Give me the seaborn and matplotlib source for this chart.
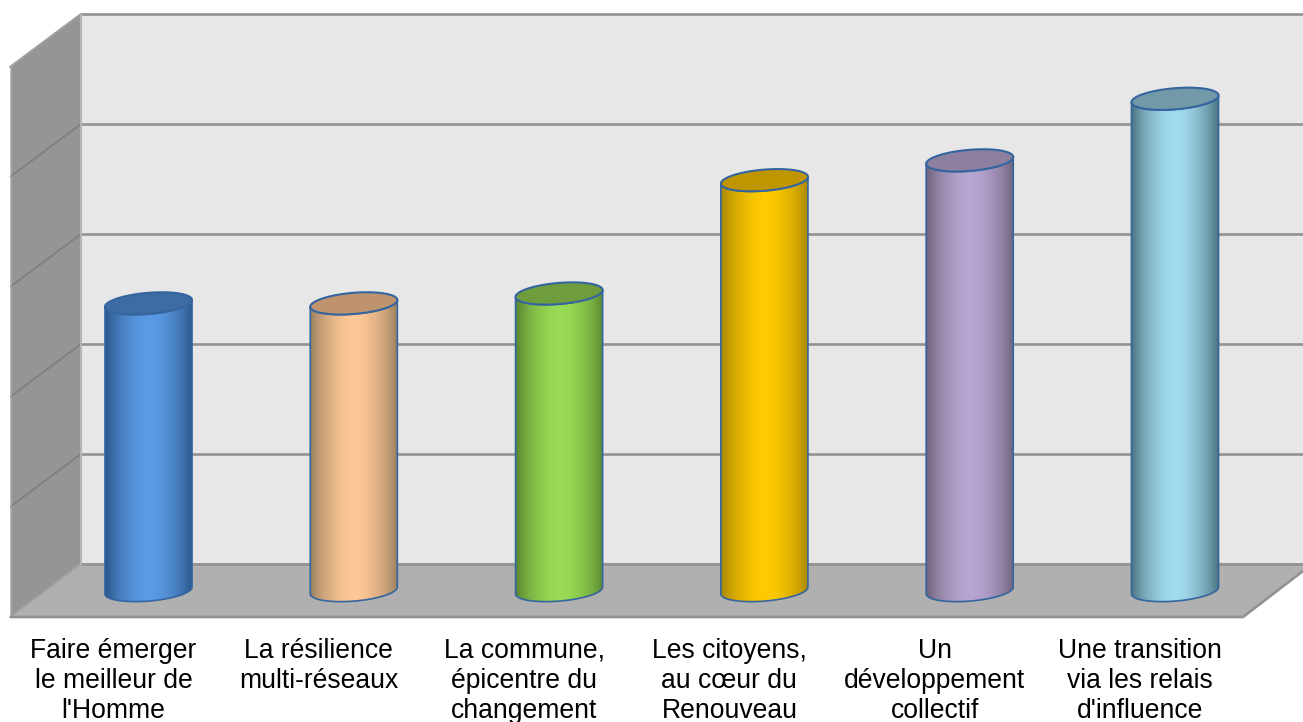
import numpy as np
import pandas as pd
import matplotlib
matplotlib.use("Agg")
import matplotlib.pyplot as plt
import seaborn as sns
from matplotlib.colors import LinearSegmentedColormap, to_rgb
from matplotlib.patches import PathPatch, Polygon
from matplotlib.path import Path
from matplotlib.transforms import ScaledTranslation

categories = ["Faire émerger\nle meilleur de\nl'Homme", "La résilience\nmulti-réseaux\n",
              "La commune,\népicentre du\nchangement", "Les citoyens,\nau cœur du\nRenouveau",
              "Un\ndéveloppement\ncollectif", "Une transition\nvia les relais\nd'influence"]
values = [2.61, 2.61, 2.70, 3.73, 3.91, 4.47]
grid_values = [1, 2, 3, 4, 5]
bright = ["#5B9BE6", "#FFC896", "#9ADC56", "#FFCB00", "#B8A6D2", "#A2DCEF"]
dark = ["#2A5688", "#9A7F60", "#5A8630", "#A88606", "#6E627A", "#4A727F"]
caps = ["#3D6CA4", "#BE936D", "#6F9D3B", "#C09600", "#8C7F9F", "#7199A7"]
outline = "#35659F"

W, H = 1303, 722
PX_X, PX_Y = 205.3, 110.0      # pixels per category / per value unit
X0, Y0 = 148.5, 590.5          # pixel position of the first bar's base centre
FLOOR_FRONT = 617
LABEL_SHIFT_PX = -35           # labels sit on the chart's front edge, left of the bars

sns.set_theme(style="white")
plt.rcParams["font.family"] = ["Liberation Sans", "DejaVu Sans"]

fig = plt.figure(figsize=(W / 100, H / 100), dpi=100, facecolor="white")

# chart frame: back wall, side wall and floor, in pixel coordinates
bg = fig.add_axes([0, 0, 1, 1], zorder=0)
bg.set_xlim(0, W)
bg.set_ylim(H, 0)
bg.axis("off")
bg.add_patch(Polygon([(81, 14), (W, 14), (W, 563), (81, 563)], fc="#E7E7E7", ec="none"))
bg.add_patch(Polygon([(81, 14), (11, 67), (11, FLOOR_FRONT), (81, 563)], fc="#959595", ec="none"))
bg.add_patch(Polygon([(81, 563), (W, 563), (W, 571), (1243, FLOOR_FRONT), (11, FLOOR_FRONT)], fc="#B0B0B0", ec="none"))
line = dict(color="#929292", lw=1.9, solid_capstyle="butt")
side = dict(color="#7E7E7E", lw=1.2, solid_capstyle="butt")
for v in grid_values:
    y = 564 - PX_Y * v
    bg.plot([81, W], [y, y], **line)
    bg.plot([81, 10], [y, y + 53], **side)
bg.plot([81, W], [564, 564], **line)
bg.plot([81, 10], [564, FLOOR_FRONT], color="#A2A2A2", lw=1.2)
bg.plot([10, 81], [67, 14], color="#A2A2A2", lw=1.4)
bg.plot([81, 81], [14, 564], color="#B4B4B4", lw=1.5)
bg.plot([11, 11], [67, FLOOR_FRONT], color="#A8A8A8", lw=1.1)
bg.plot([10, 1243, W], [FLOOR_FRONT, FLOOR_FRONT, 571], **line)

# value axes
ax = fig.add_axes([0, (H - FLOOR_FRONT) / H, 1, FLOOR_FRONT / H], zorder=1)
ax.patch.set_alpha(0)
df = pd.DataFrame({"cat": categories, "val": values})
sns.barplot(data=df, x="cat", y="val", hue="cat", palette=bright, saturation=1,
            width=0.424, dodge=False, legend=False, linewidth=0, ax=ax)
xlim = (-X0 / PX_X, (W - X0) / PX_X)
ylim = ((Y0 - FLOOR_FRONT) / PX_Y, Y0 / PX_Y)

B, K = 10.6, 3.4   # cap half height and tilt, in pixels
t = np.linspace(0, 2 * np.pi, 121)
front = np.linspace(np.pi, 0, 61)
shade_pos = [0.0, 0.06, 0.14, 0.25, 0.38, 0.5, 0.62, 0.75, 0.86, 0.94, 1.0]
shade_mix = [0.0, 0.22, 0.48, 0.72, 0.93, 1.0, 0.93, 0.72, 0.48, 0.22, 0.0]

def cap(cx, w, base, th):
    return cx + w / 2 * np.cos(th), base + (K * np.cos(th) - B * np.sin(th)) / PX_Y

for i, bar in enumerate(ax.patches):
    w, h = bar.get_width(), bar.get_height()
    cx = bar.get_x() + w / 2
    xb, yb = cap(cx, w, 0, front)
    xt, yt = cap(cx, w, h, front[::-1])
    body = np.vstack([np.column_stack([xb, yb]), np.column_stack([xt, yt]), [xb[0], yb[0]]])
    body_path = Path(body, closed=True)
    d, b = np.array(to_rgb(dark[i])), np.array(to_rgb(bright[i]))
    cmap = LinearSegmentedColormap.from_list(
        "c", [(p, tuple(d + (b - d) * m)) for p, m in zip(shade_pos, shade_mix)])
    im = ax.imshow(np.linspace(0, 1, 256)[None, :], cmap=cmap, aspect="auto", zorder=3,
                   extent=(cx - w / 2, cx + w / 2, -0.2, h + 0.2), interpolation="bilinear")
    clip = PathPatch(body_path, transform=ax.transData, fc="none", ec="none")
    ax.add_patch(clip)
    im.set_clip_path(clip)
    bar.set_clip_path(clip)
    ax.add_patch(PathPatch(body_path, fc="none", ec=outline, lw=1.2, zorder=4))
    xc, yc = cap(cx, w, h, t)
    ax.add_patch(PathPatch(Path(np.column_stack([xc, yc]), closed=True),
                           fc=caps[i], ec=outline, lw=1.5, zorder=5))

ax.set_xlim(*xlim)
ax.set_ylim(*ylim)
ax.set_xlabel("")
ax.set_ylabel("")
ax.set_yticks([])
ax.tick_params(axis="x", length=0, pad=15, labelsize=19.1, labelcolor="black")
shift = ScaledTranslation(LABEL_SHIFT_PX / 100, 0, fig.dpi_scale_trans)
for lab in ax.get_xticklabels():
    lab.set_linespacing(1.2)
    lab.set_transform(lab.get_transform() + shift)
sns.despine(ax=ax, left=True, bottom=True)

fig.savefig("out.png", dpi=100, facecolor="white")
